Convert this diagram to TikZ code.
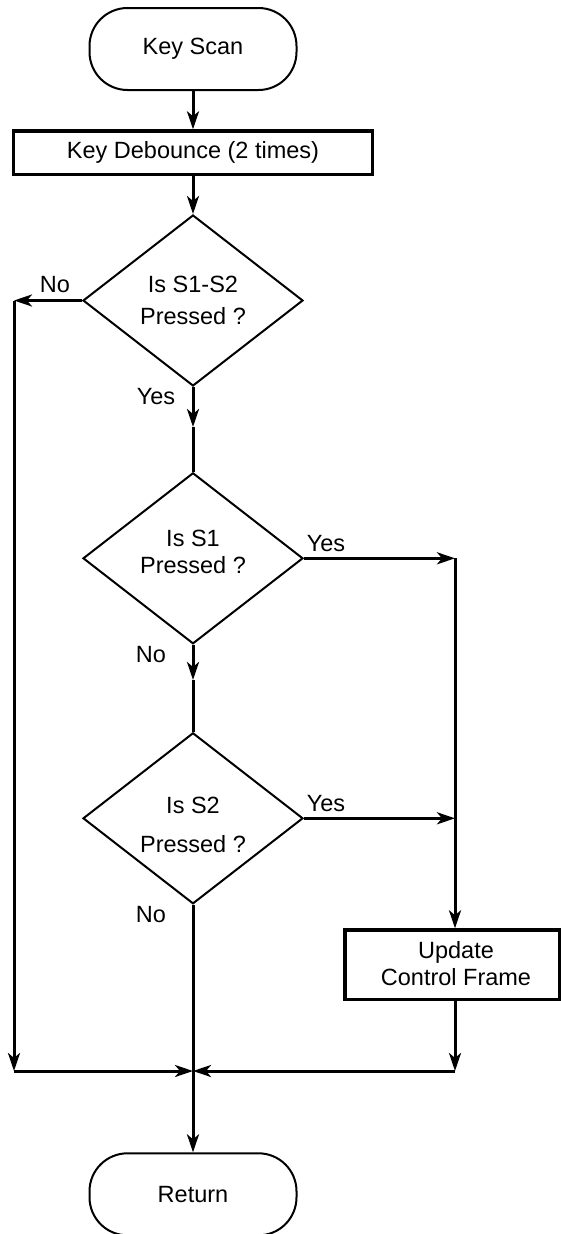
\documentclass[tikz,border=0pt]{standalone}
\usepackage{fontspec}
\setmainfont{Liberation Sans}
\usetikzlibrary{shapes.geometric,arrows.meta}
\begin{document}
\begin{tikzpicture}[x=1pt,y=-1pt,
  every node/.style={font=\fontsize{23.5}{28}\selectfont},
  pill/.style={draw,line width=2pt,rectangle,rounded corners=38pt,minimum width=207pt,minimum height=82pt,inner sep=0pt},
  procbox/.style={draw,line width=3.5pt,rectangle,inner sep=0pt,align=center},
  decision/.style={draw,line width=2pt,diamond,minimum width=220pt,minimum height=171pt,inner sep=0pt,align=center},
  inner/.style={align=center,inner sep=0pt},
  conn/.style={line width=3pt},
  arr/.style={conn,-{Stealth[length=18pt,width=12pt,inset=5pt]}},
  lbl/.style={text height=17pt,text depth=0pt,inner sep=0pt}]
\useasboundingbox (0,0) rectangle (561,1234);
\node[pill] (ks) at (193,49) {Key Scan};
\node[procbox,minimum width=359pt,minimum height=43.3pt] (db) at (193,152.7) {Key Debounce (2 times)};
\node[decision] (d1) at (193,300.5) {Is S1-S2\\[3.7pt]Pressed ?};
\node[decision] (d2) at (193,558.3) {};
\node[inner] (d2t) at (193,551.7) {Is S1\\[-1.3pt]Pressed ?};
\node[decision] (d3) at (193,818.3) {};
\node[inner] (d3t) at (193,824.5) {Is S2\\[11pt]Pressed ?};
\node[procbox,minimum width=215pt,minimum height=69.3pt] (ub) at (452.5,964.7) {};
\node[inner] (ubt) at (456,963.3) {Update\\[-1.3pt]Control Frame};
\node[pill] (ret) at (193,1194.3) {Return};
\coordinate (L1) at (14,300.5);
\coordinate (LB) at (14,1071);
\coordinate (J) at (193,1071);
\coordinate (m1) at (193,427);
\coordinate (m2) at (193,680);
\coordinate (R1) at (455,558.3);
\coordinate (R2) at (455,818.3);
\coordinate (RB) at (455,1071);
\draw[arr] (ks) -- (db);
\draw[arr] (db) -- (d1);
\draw[arr] (d1.west) -- (L1);
\draw[arr] (L1) -- (LB);
\draw[arr] (LB) -- (J);
\draw[arr] (d1.south) -- (m1);
\draw[conn] (m1) -- (d2.north);
\draw[arr] (d2.east) -- (R1);
\draw[conn] (R1) -- (R2);
\draw[arr] (R2) -- (R2 |- ub.north);
\draw[arr] (d2.south) -- (m2);
\draw[conn] (m2) -- (d3.north);
\draw[arr] (d3.east) -- (R2);
\draw[conn] (d3.south) -- (J);
\draw[arr] (J) -- (ret.north);
\draw[arr] (RB |- ub.south) -- (RB);
\draw[arr] (RB) -- (J);
\node[lbl] (n1) at (55,284.3) {No};
\node[lbl] (y1) at (156,396) {Yes};
\node[lbl] (y2) at (326,543.3) {Yes};
\node[lbl] (n2) at (151,654) {No};
\node[lbl] (y3) at (326,803.3) {Yes};
\node[lbl] (n3) at (151,914) {No};
\end{tikzpicture}
\end{document}
